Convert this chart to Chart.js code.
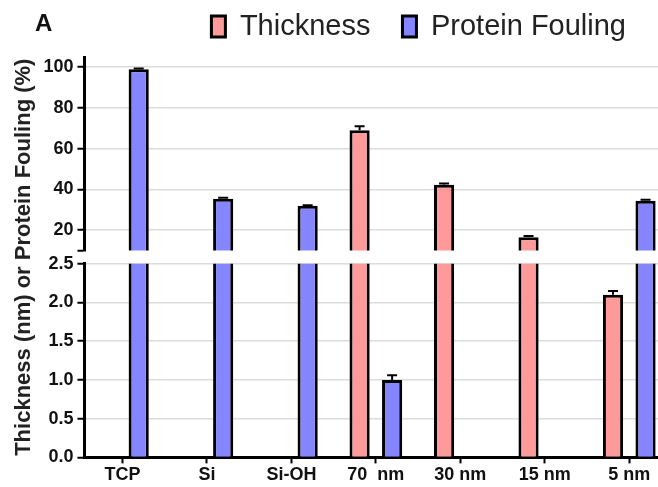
<!DOCTYPE html>
<html>
<head>
<meta charset="utf-8">
<script src="https://cdn.jsdelivr.net/npm/chart.js@4.4.1/dist/chart.umd.min.js"></script>
<style>
  html, body { margin: 0; padding: 0; background: #fff; }
  #wrap { position: relative; width: 658px; height: 487px; }
  #panel { position: absolute; left: 35px; top: 9px; font: bold 24px "Liberation Sans", Arial, sans-serif; color: #111; }
</style>
</head>
<body>
<div id="wrap">
  <canvas id="chart" width="658" height="487"></canvas>
  <div id="panel">A</div>
</div>
<script>
// data
var categories = ['TCP', 'Si', 'Si-OH', '70  nm', '30 nm', '15 nm', '5 nm'];
var thickness = [null, null, null, 69, 42.3, 16.5, 2.1];
var thicknessErr = [null, null, null, 2, 0.6, 0.7, 0.05];
var fouling = [99, 35.5, 32, 1.0, 0.01, null, 34.5];
var foulingErr = [0.3, 0.4, 0.3, 0.06, null, null, 0.5];

// broken y axis: upper and lower segments
var topMin = 10, topMax = 105;
var topTicks = [20, 40, 60, 80, 100];
var botMin = 0, botMax = 2.5;
var botTicks = [0, 0.5, 1, 1.5, 2, 2.5];

var pink = '#ff9a9a';
var blue = '#8585ff';
var font = '"Liberation Sans", Arial, sans-serif';
var yTitle = 'Thickness (nm) or Protein Fouling (%)';

function points(vals) {
    return categories.map(function (c, i) { return { x: i, y: vals[i] }; });
}

function barSet(label, vals, color, stack, axis) {
    return {
        label: label,
        data: points(vals),
        backgroundColor: color,
        borderColor: '#000',
        borderWidth: 3,
        stack: stack,
        yAxisID: axis,
        categoryPercentage: 0.77,
        barPercentage: 0.62
    };
}

// error bars (upper cap only), clipped to the segment of their axis
var errorBars = {
    id: 'errorBars',
    afterDatasetsDraw: function (chart) {
        var ctx = chart.ctx;
        var area = chart.chartArea;
        var sets = [[0, thickness, thicknessErr], [1, fouling, foulingErr],
                    [2, thickness, thicknessErr], [3, fouling, foulingErr]];
        sets.forEach(function (s) {
            var meta = chart.getDatasetMeta(s[0]);
            var scale = chart.scales[meta.yAxisID];
            ctx.save();
            ctx.beginPath();
            ctx.rect(area.left, scale.top, area.right - area.left, scale.bottom - scale.top);
            ctx.clip();
            ctx.strokeStyle = '#000';
            ctx.lineWidth = 2;
            meta.data.forEach(function (bar, i) {
                var v = s[1][i], e = s[2][i];
                if (v == null || e == null) return;
                var y0 = scale.getPixelForValue(v);
                var y1 = scale.getPixelForValue(v + e);
                ctx.beginPath();
                ctx.moveTo(bar.x, y0);
                ctx.lineTo(bar.x, y1);
                ctx.moveTo(bar.x - 5, y1);
                ctx.lineTo(bar.x + 5, y1);
                ctx.stroke();
            });
            ctx.restore();
        });
    }
};

// a little extra room between the legend and the plot
var legendGap = {
    id: 'legendGap',
    beforeLayout: function (chart) {
        var lg = chart.legend;
        if (lg && !lg._gapPatched) {
            var fit = lg.fit;
            lg.fit = function () {
                fit.call(this);
                this.height += 6;
            };
            lg._gapPatched = true;
        }
    }
};

var tickFont = { family: font, size: 18, weight: 'bold' };
var titleFont = { family: font, size: 22, weight: 'bold' };
// blank title on the tick axes keeps room for the shared title on the gap axis
var blankTitle = { display: true, text: ' ', font: titleFont, padding: { top: 0, bottom: 2 } };

new Chart(document.getElementById('chart').getContext('2d'), {
    type: 'bar',
    data: {
        datasets: [
            barSet('Thickness', thickness, pink, 'thick', 'yTop'),
            barSet('Protein Fouling', fouling, blue, 'foul', 'yTop'),
            barSet('Thickness', thickness, pink, 'thick', 'yBot'),
            barSet('Protein Fouling', fouling, blue, 'foul', 'yBot')
        ]
    },
    options: {
        responsive: false,
        animation: false,
        layout: { padding: { top: -20, right: 0, left: 11, bottom: 0 } },
        plugins: {
            legend: {
                position: 'top',
                align: 'end',
                labels: {
                    filter: function (item) { return item.datasetIndex < 2; },
                    boxWidth: 14,
                    boxHeight: 21,
                    color: '#222',
                    font: { family: font, size: 29 },
                    padding: 32
                }
            },
            tooltip: { enabled: false }
        },
        scales: {
            x: {
                type: 'linear',
                offset: false,
                min: -0.45,
                max: 6.34,
                afterBuildTicks: function (s) {
                    s.ticks = categories.map(function (c, i) { return { value: i }; });
                },
                ticks: {
                    callback: function (v) { return categories[v]; },
                    color: '#111',
                    font: { family: font, size: 18, weight: 'bold' },
                    maxRotation: 0,
                    autoSkip: false,
                    padding: 1
                },
                grid: { display: true, offset: false, drawOnChartArea: false, drawTicks: true, tickLength: 6, tickColor: '#000', tickWidth: 2 },
                border: { color: '#000', width: 3 }
            },
            yBot: {
                type: 'linear',
                position: 'left',
                stack: 'y',
                stackWeight: 1,
                stacked: false,
                min: botMin,
                max: botMax,
                afterBuildTicks: function (s) {
                    s.ticks = botTicks.map(function (v) { return { value: v }; });
                },
                ticks: {
                    callback: function (v) { return v.toFixed(1); },
                    color: '#111',
                    font: tickFont,
                    autoSkip: false,
                    padding: 4
                },
                title: blankTitle,
                grid: { color: '#dcdcdc', lineWidth: 1.5, tickLength: 7, tickColor: '#000', tickWidth: 2 },
                border: { color: '#000', width: 3 }
            },
            yGap: {
                type: 'linear',
                position: 'left',
                stack: 'y',
                stackWeight: 0.068,
                ticks: { display: false },
                grid: { display: false, drawTicks: false },
                border: { display: false },
                title: {
                    display: true,
                    text: yTitle,
                    color: '#222',
                    font: titleFont,
                    padding: { top: 0, bottom: 2 }
                }
            },
            yTop: {
                type: 'linear',
                position: 'left',
                stack: 'y',
                stackWeight: 1,
                stacked: false,
                min: topMin,
                max: topMax,
                afterBuildTicks: function (s) {
                    s.ticks = [topMin].concat(topTicks).map(function (v) { return { value: v }; });
                },
                ticks: {
                    callback: function (v) { return v === topMin ? '' : String(v); },
                    color: '#111',
                    font: tickFont,
                    autoSkip: false,
                    padding: 4
                },
                title: blankTitle,
                grid: {
                    color: function (c) { return c.tick && c.tick.value === topMin ? 'rgba(0,0,0,0)' : '#dcdcdc'; },
                    lineWidth: 1.5,
                    tickLength: 7,
                    tickColor: '#000',
                    tickWidth: 2
                },
                border: { color: '#000', width: 3 }
            }
        }
    },
    plugins: [errorBars, legendGap]
});
</script>
</body>
</html>
